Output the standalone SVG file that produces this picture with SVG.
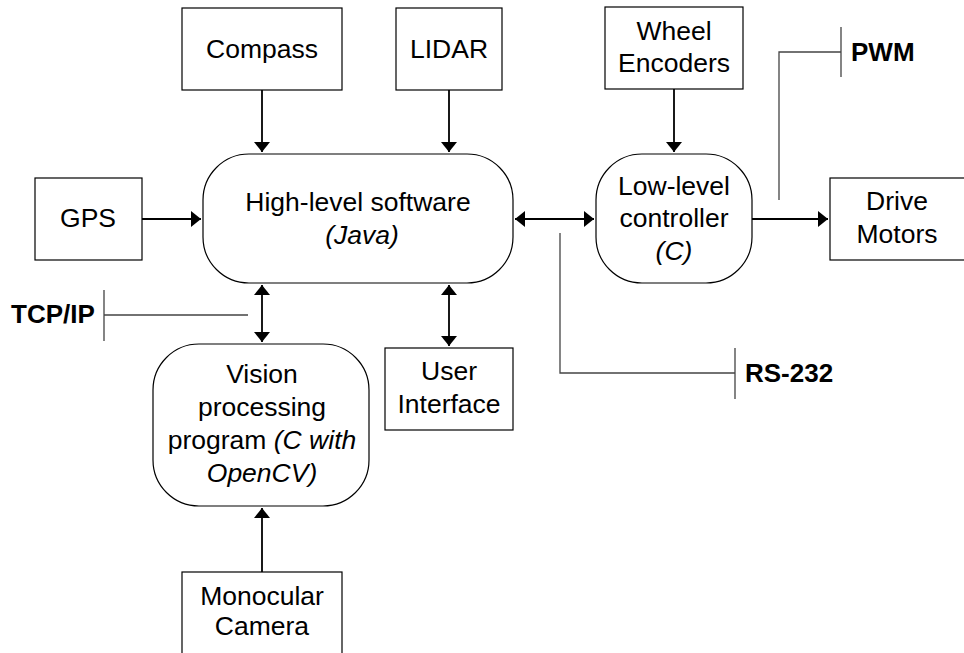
<svg xmlns="http://www.w3.org/2000/svg" width="964" height="653" viewBox="0 0 964 653">
<style>
.box{fill:#fff;stroke:#000;stroke-width:1.2}
.t{font-family:"Liberation Sans",Arial,sans-serif;font-size:26.5px;fill:#000;text-anchor:middle}
.b{font-family:"Liberation Sans",Arial,sans-serif;font-size:26px;font-weight:bold;fill:#000}
.i{font-style:italic}
.c{stroke:#000;stroke-width:1.8;fill:none}
.s{stroke:#444;stroke-width:1.3;fill:none}
</style>
<defs>
<marker id="ah" markerUnits="userSpaceOnUse" markerWidth="11" markerHeight="17" refX="10" refY="8" orient="auto-start-reverse" viewBox="0 0 11 16">
<path d="M0,0 L10,8 L0,16 z" fill="#000"/>
</marker>
</defs>
<rect width="964" height="653" fill="#fff"/>
<g id="connectors">
<line class="c" x1="262" y1="90" x2="262" y2="152" marker-end="url(#ah)"/>
<line class="c" x1="449" y1="90" x2="449" y2="152" marker-end="url(#ah)"/>
<line class="c" x1="142" y1="219" x2="201" y2="219" marker-end="url(#ah)"/>
<line class="c" x1="674" y1="89" x2="674" y2="152" marker-end="url(#ah)"/>
<line class="c" x1="515" y1="219" x2="594" y2="219" marker-start="url(#ah)" marker-end="url(#ah)"/>
<line class="c" x1="752" y1="219" x2="828" y2="219" marker-end="url(#ah)"/>
<line class="c" x1="262" y1="285" x2="262" y2="342" marker-start="url(#ah)" marker-end="url(#ah)"/>
<line class="c" x1="449" y1="285" x2="449" y2="346" marker-start="url(#ah)" marker-end="url(#ah)"/>
<line class="c" x1="262" y1="572" x2="262" y2="508" marker-end="url(#ah)"/>
<path class="s" d="M779,200 V52 H841 M841,27 V77"/>
<path class="s" d="M560,233 V373 H735 M735,348 V399"/>
<path class="s" d="M248,315 H104 M104,290 V341"/>
</g>
<g id="compass"><rect class="box" x="182" y="8" width="160" height="82"/><text class="t" x="262" y="58">Compass</text></g>
<g id="lidar"><rect class="box" x="396" y="8" width="106" height="82"/><text class="t" x="449" y="58">LIDAR</text></g>
<g id="gps"><rect class="box" x="35" y="178" width="107" height="82"/><text class="t" x="88" y="227">GPS</text></g>
<g id="wheel-encoders"><rect class="box" x="605" y="7" width="138" height="82"/><text class="t" x="674" y="40">Wheel</text><text class="t" x="674" y="72">Encoders</text></g>
<g id="high-level"><rect class="box" x="203" y="154" width="310" height="129" rx="46" ry="46"/><text class="t" x="358" y="211">High-level software</text><text class="t i" x="362" y="244">(Java)</text></g>
<g id="low-level"><rect class="box" x="596" y="154" width="156" height="129" rx="46" ry="46"/><text class="t" x="674" y="195">Low-level</text><text class="t" x="674" y="227">controller</text><text class="t i" x="674" y="260">(C)</text></g>
<g id="drive-motors"><rect class="box" x="830" y="178" width="140" height="82"/><text class="t" x="897" y="210">Drive</text><text class="t" x="897" y="243">Motors</text></g>
<g id="vision"><rect class="box" x="153" y="344" width="216" height="162" rx="46" ry="46"/><text class="t" x="262" y="383">Vision</text><text class="t" x="262" y="416">processing</text><text class="t" x="262" y="449">program <tspan class="i">(C with</tspan></text><text class="t i" x="262" y="482">OpenCV)</text></g>
<g id="user-interface"><rect class="box" x="385" y="348" width="128" height="82"/><text class="t" x="449" y="380">User</text><text class="t" x="449" y="413">Interface</text></g>
<g id="camera"><rect class="box" x="182" y="572" width="160" height="100"/><text class="t" x="262" y="605">Monocular</text><text class="t" x="262" y="635">Camera</text></g>
<g id="labels">
<text class="b" x="851" y="61">PWM</text>
<text class="b" x="745" y="382">RS-232</text>
<text class="b" x="11" y="323">TCP/IP</text>
</g>
</svg>
